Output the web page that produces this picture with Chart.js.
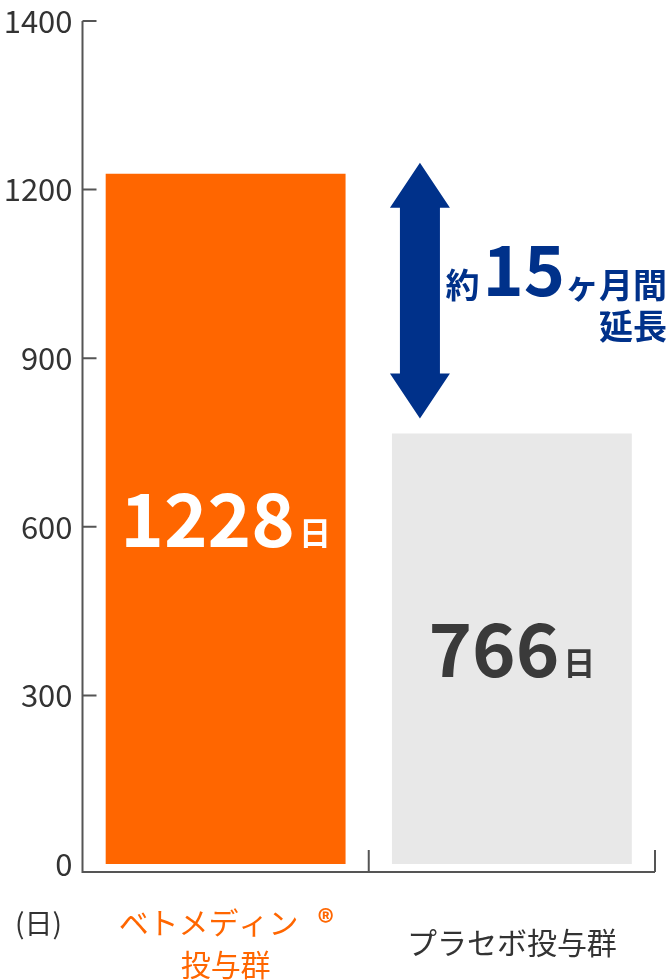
<!DOCTYPE html>
<html>
<head>
<meta charset="utf-8">
<script src="https://cdn.jsdelivr.net/npm/chart.js@4"></script>
<style>
  body { margin: 0; background: #fff; }
  #wrap { width: 670px; height: 980px; }
</style>
</head>
<body>
<div id="wrap"><canvas id="myChart"></canvas></div>
<script>
// data
var groups = ["ベトメディン投与群", "プラセボ投与群"];
var days = [1228, 766];
var barColors = ["#FF6600", "#E8E8E8"];
var yTickValues = [0, 300, 600, 900, 1200, 1500];
var yTickLabels = ["0", "300", "600", "900", "1200", "1400"];  // top of axis is cut (1400)
var valueColors = ["#FFFFFF", "#3A3A3A"];

var FONT = "'Noto Sans CJK JP', 'Noto Sans', sans-serif";
var NAVY = "#00318A";
var AXIS = "#555555";

// axis lines, ticks, labels and the arrow
var decor = {
  id: "decor",
  afterDraw: function(chart) {
    var ctx = chart.ctx;
    var area = chart.chartArea;
    var x = chart.scales.x, y = chart.scales.y;
    var meta = chart.getDatasetMeta(0);
    var axisY = area.bottom + 8;
    var left = area.left;

    ctx.save();
    ctx.strokeStyle = AXIS;
    ctx.lineWidth = 2;
    ctx.beginPath();
    ctx.moveTo(left, y.getPixelForValue(yTickValues[yTickValues.length - 1]));
    ctx.lineTo(left, axisY);
    ctx.lineTo(area.right, axisY);
    // inward ticks on y
    for (var i = 1; i < yTickValues.length; i++) {
      var ty = y.getPixelForValue(yTickValues[i]);
      ctx.moveTo(left, ty);
      ctx.lineTo(left + 14, ty);
    }
    // category separators on x
    var mid = (x.getPixelForValue(0) + x.getPixelForValue(1)) / 2;
    ctx.moveTo(mid, axisY);
    ctx.lineTo(mid, axisY - 22);
    ctx.moveTo(area.right, axisY);
    ctx.lineTo(area.right, axisY - 22);
    ctx.stroke();

    // values inside bars
    for (var j = 0; j < days.length; j++) {
      var bar = meta.data[j];
      var cy = (bar.y + bar.base) / 2;
      var num = String(days[j]);
      ctx.font = "bold 74px " + FONT;
      var w1 = ctx.measureText(num).width;
      ctx.font = "bold 32px " + FONT;
      var w2 = ctx.measureText("日").width;
      var sx = bar.x - (w1 + 4 + w2) / 2;
      ctx.fillStyle = valueColors[j];
      ctx.textBaseline = "alphabetic";
      ctx.textAlign = "left";
      ctx.font = "bold 74px " + FONT;
      ctx.fillText(num, sx, cy + 28);
      ctx.font = "bold 32px " + FONT;
      ctx.fillText("日", sx + w1 + 4, cy + 26);
    }

    // x labels
    ctx.textBaseline = "middle";
    ctx.font = "28px " + FONT;
    ctx.fillStyle = "#333";
    ctx.textAlign = "left";
    ctx.fillText("(日)", 15, 923);

    var x0 = x.getPixelForValue(0);
    ctx.fillStyle = "#FF6600";
    ctx.font = "30px " + FONT;
    ctx.fillText("ベトメディン", x0 - 107, 923);
    ctx.textAlign = "center";
    ctx.font = "bold 32px " + FONT;
    ctx.fillText("®", x0 + 100, 922);
    ctx.font = "30px " + FONT;
    ctx.fillText("投与群", x0, 965);

    ctx.fillStyle = "#333";
    ctx.fillText("プラセボ投与群", x.getPixelForValue(1), 943);

    // double arrow
    var b1 = meta.data[1];
    var cx = b1.x - b1.width / 2 + 28;
    var top = y.getPixelForValue(days[0]) - 11;
    var bot = y.getPixelForValue(days[1]) - 15;
    var hh = 45, hw = 30, sw = 20;
    ctx.fillStyle = NAVY;
    ctx.beginPath();
    ctx.moveTo(cx, top);
    ctx.lineTo(cx + hw, top + hh);
    ctx.lineTo(cx + sw, top + hh);
    ctx.lineTo(cx + sw, bot - hh);
    ctx.lineTo(cx + hw, bot - hh);
    ctx.lineTo(cx, bot);
    ctx.lineTo(cx - hw, bot - hh);
    ctx.lineTo(cx - sw, bot - hh);
    ctx.lineTo(cx - sw, top + hh);
    ctx.lineTo(cx - hw, top + hh);
    ctx.closePath();
    ctx.fill();

    // 約15ヶ月間 / 延長
    var right = chart.width - 3;
    var base1 = top + 133;
    ctx.textBaseline = "alphabetic";
    ctx.textAlign = "left";
    var parts = [["約", "bold 34px "], ["15", "bold 70px "], ["ヶ月間", "bold 34px "]];
    var gaps = [3, 0, 0];
    var total = 0, widths = [];
    parts.forEach(function(p, k) {
      ctx.font = p[1] + FONT;
      var w = ctx.measureText(p[0]).width;
      widths.push(w);
      total += w + gaps[k];
    });
    var px = right - total;
    parts.forEach(function(p, k) {
      ctx.font = p[1] + FONT;
      ctx.fillText(p[0], px, base1 + (k == 1 ? 0 : 2));
      px += widths[k] + gaps[k];
    });
    ctx.font = "bold 34px " + FONT;
    ctx.textAlign = "right";
    ctx.fillText("延長", right, base1 + 43);
    ctx.restore();
  }
};

new Chart("myChart", {
  type: "bar",
  data: {
    labels: groups,
    datasets: [{
      data: days,
      backgroundColor: barColors,
      borderWidth: 0,
      barPercentage: 0.838,
      categoryPercentage: 1
    }]
  },
  options: {
    responsive: true,
    maintainAspectRatio: false,
    animation: false,
    layout: { padding: { top: 21, right: 15, bottom: 116, left: 0 } },
    plugins: {
      legend: { display: false },
      tooltip: { enabled: false }
    },
    scales: {
      x: {
        display: false
      },
      y: {
        min: 0,
        max: 1500,
        afterFit: function(s) {
          s.width = 82.5;
          s.paddingTop = 0;
          s.paddingBottom = 0;
        },
        afterBuildTicks: function(s) {
          s.ticks = yTickValues.map(function(v) { return { value: v }; });
        },
        grid: { display: false, drawTicks: false },
        border: { display: false },
        ticks: {
          padding: 10,
          color: "#333",
          font: { family: FONT, size: 31 },
          callback: function(v, i) { return yTickLabels[i]; }
        }
      }
    }
  },
  plugins: [decor]
});
</script>
</body>
</html>
